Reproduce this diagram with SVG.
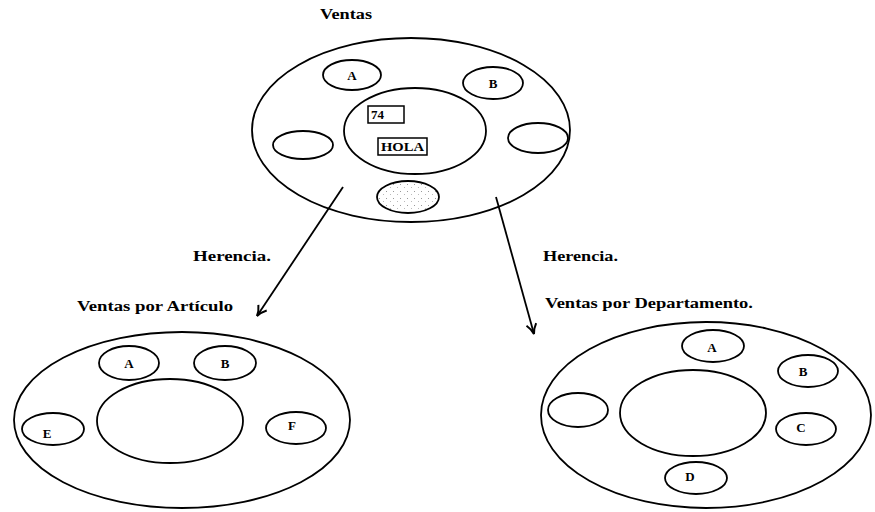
<svg xmlns="http://www.w3.org/2000/svg" width="875" height="512" viewBox="0 0 875 512">
<defs>
<style>
.e{fill:none;stroke:#000;stroke-width:1.8}
.t{font-family:"Liberation Serif","Times New Roman",serif;font-weight:bold;font-size:15px;fill:#000}
.l{font-family:"Liberation Serif","Times New Roman",serif;font-weight:bold;font-size:13px;fill:#000;text-anchor:middle}
.c{stroke:#000;stroke-width:1.8;fill:none}
</style>
<pattern id="stip" width="7" height="7" patternUnits="userSpaceOnUse">
<rect x="1" y="2" width="1" height="1" fill="#999"/>
<rect x="5" y="5" width="1" height="1" fill="#bbb"/>
</pattern>
<marker id="ah" viewBox="0 0 12 12" refX="11" refY="6" markerWidth="12" markerHeight="12" markerUnits="userSpaceOnUse" orient="auto">
<path d="M1,1 Q6,5 11,6 Q6,7 1,11" fill="none" stroke="#000" stroke-width="2"/>
</marker>
</defs>
<rect width="875" height="512" fill="#fff"/>

<text class="t" x="320" y="19" textLength="52" lengthAdjust="spacingAndGlyphs">Ventas</text>
<text class="t" x="193" y="261" textLength="78" lengthAdjust="spacingAndGlyphs">Herencia.</text>
<text class="t" x="543" y="261" textLength="75" lengthAdjust="spacingAndGlyphs">Herencia.</text>
<text class="t" x="77" y="311" textLength="156" lengthAdjust="spacingAndGlyphs">Ventas por Artículo</text>
<text class="t" x="545" y="308" textLength="208" lengthAdjust="spacingAndGlyphs">Ventas por Departamento.</text>

<g id="ventas">
<ellipse class="e" cx="411" cy="130" rx="159" ry="92"/>
<ellipse class="e" cx="415" cy="131" rx="71" ry="43"/>
<ellipse class="e" cx="352" cy="75" rx="29" ry="15"/>
<text class="l" x="352" y="80">A</text>
<ellipse class="e" cx="493" cy="83" rx="30" ry="16"/>
<text class="l" x="493" y="88">B</text>
<ellipse class="e" cx="303" cy="145" rx="30" ry="14"/>
<ellipse class="e" cx="538" cy="138" rx="30" ry="15"/>
<ellipse cx="408" cy="197" rx="31" ry="16" fill="url(#stip)" stroke="#000" stroke-width="1.8"/>
<rect x="368" y="106" width="36" height="17" fill="#fff" stroke="#000" stroke-width="1.5"/>
<text class="t" x="371" y="119" style="font-size:13px">74</text>
<rect x="378" y="138" width="49" height="17" fill="#fff" stroke="#000" stroke-width="1.5"/>
<text class="t" x="381" y="151" style="font-size:13px" textLength="43" lengthAdjust="spacingAndGlyphs">HOLA</text>
</g>

<g id="ventas-articulo">
<ellipse class="e" cx="182" cy="420" rx="168" ry="88"/>
<ellipse class="e" cx="170" cy="421" rx="73" ry="42"/>
<ellipse class="e" cx="129" cy="363" rx="30" ry="17"/>
<text class="l" x="129" y="368">A</text>
<ellipse class="e" cx="225" cy="363" rx="31" ry="17"/>
<text class="l" x="225" y="368">B</text>
<ellipse class="e" cx="53" cy="429" rx="31" ry="16"/>
<text class="l" x="47" y="438">E</text>
<ellipse class="e" cx="296" cy="428" rx="30" ry="16"/>
<text class="l" x="292" y="430">F</text>
</g>

<g id="ventas-departamento">
<ellipse class="e" cx="706" cy="415" rx="165" ry="93"/>
<ellipse class="e" cx="693" cy="413" rx="73" ry="43"/>
<ellipse class="e" cx="713" cy="346" rx="31" ry="16"/>
<text class="l" x="712" y="352">A</text>
<ellipse class="e" cx="808" cy="371" rx="30" ry="16"/>
<text class="l" x="803" y="376">B</text>
<ellipse class="e" cx="806" cy="429" rx="30" ry="16"/>
<text class="l" x="801" y="432">C</text>
<ellipse class="e" cx="696" cy="478" rx="31" ry="16"/>
<text class="l" x="690" y="481">D</text>
<ellipse class="e" cx="578" cy="410" rx="30" ry="17"/>
</g>

<g id="connectors">
<path class="c" d="M343,187 L257,316" marker-end="url(#ah)"/>
<path class="c" d="M496,197 L534,334" marker-end="url(#ah)"/>
</g>
</svg>
